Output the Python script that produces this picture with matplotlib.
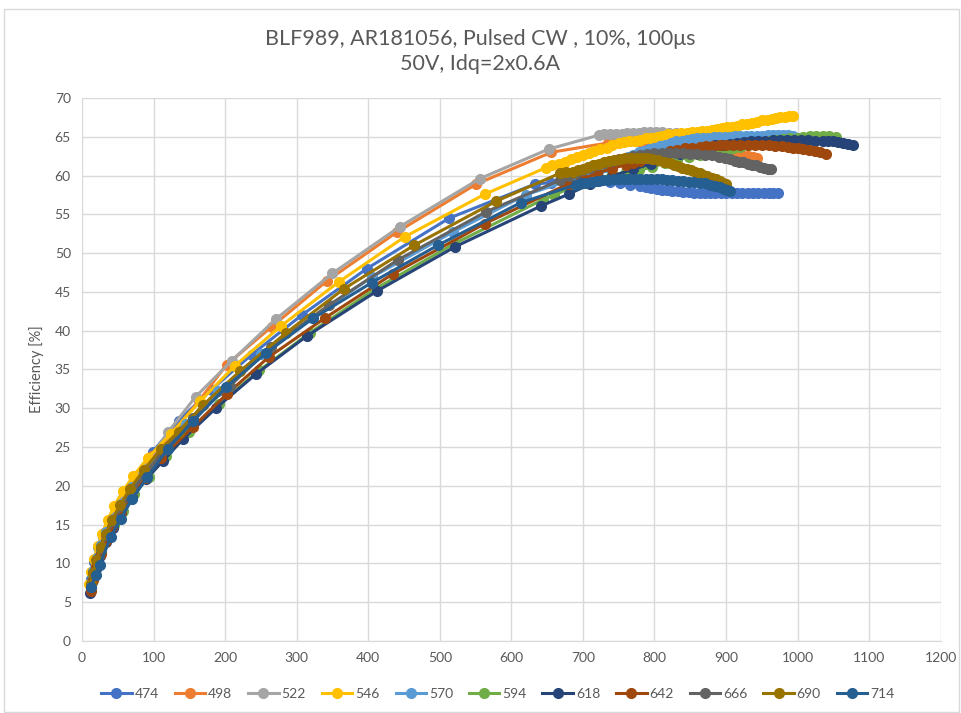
import matplotlib
matplotlib.use("Agg")
import matplotlib.pyplot as plt

plt.rcParams['font.family'] = ['Lato', 'DejaVu Sans']

# Pout [W] and drain efficiency [%] per frequency [MHz]
pout_474 = [12, 17, 23, 31, 44, 58, 77, 99, 135, 181, 237, 307, 398, 513, 633, 655, 672, 690,
            707, 723, 738, 752, 766, 780, 788, 795, 803, 810, 818, 825, 833, 840, 848, 855, 863,
            870, 878, 885, 893, 900, 908, 915, 923, 930, 938, 945, 953, 960, 966, 972]
eff_474 = [8.0, 10.2, 12.1, 13.9, 15.9, 18.4, 21.1, 24.4, 28.4, 32.4, 36.9, 42.0, 48.0, 54.5, 58.9, 59.1, 59.3, 59.4,
           59.4, 59.3, 59.2, 59.0, 58.8, 58.6, 58.5, 58.4, 58.3, 58.2, 58.1, 58.0, 58.0, 57.9, 57.9, 57.8, 57.8,
           57.7, 57.7, 57.7, 57.7, 57.7, 57.7, 57.7, 57.7, 57.7, 57.7, 57.7, 57.7, 57.7, 57.7, 57.8]

pout_498 = [12, 15, 19, 24, 31, 39, 49, 62, 78, 98, 126, 163, 202, 265, 342, 440, 551, 656, 735,
            743, 750, 758, 765, 773, 780, 788, 795, 803, 810, 818, 825, 833, 840, 848, 855, 863,
            870, 878, 885, 893, 900, 908, 915, 922, 930, 937, 943]
eff_498 = [7.1, 8.8, 10.4, 12.0, 13.7, 15.5, 17.3, 19.3, 21.4, 23.8, 26.8, 30.9, 35.6, 40.5, 46.4, 52.7, 58.9, 63.0, 64.2,
           64.3, 64.3, 64.4, 64.4, 64.4, 64.4, 64.4, 64.4, 64.4, 64.3, 64.3, 64.2, 64.1, 64.0, 63.9, 63.8, 63.7,
           63.6, 63.4, 63.3, 63.2, 63.0, 62.9, 62.8, 62.6, 62.5, 62.4, 62.3]

pout_522 = [12, 15, 19, 24, 30, 38, 48, 60, 75, 93, 120, 159, 209, 271, 350, 444, 556, 652, 722,
            730, 738, 746, 754, 762, 770, 778, 786, 794, 802, 810, 820, 830, 840, 850, 860, 870, 880]
eff_522 = [7.0, 8.6, 10.2, 11.9, 13.4, 15.1, 17.0, 19.0, 21.0, 23.3, 26.9, 31.5, 36.1, 41.5, 47.4, 53.4, 59.6, 63.4, 65.2,
           65.3, 65.3, 65.4, 65.4, 65.5, 65.5, 65.5, 65.6, 65.6, 65.6, 65.6, 65.5, 65.5, 65.4, 65.3, 65.3, 65.2, 65.2]

pout_546 = [10, 13, 17, 22, 28, 36, 45, 57, 72, 92, 124, 165, 214, 278, 359, 451, 563, 648,
            657, 666, 675, 684, 692, 700, 708, 715, 724, 733, 741, 750, 758, 765, 773, 780, 788,
            795, 803, 810, 819, 828, 837, 845, 853, 860, 867, 873, 880, 887, 894, 901, 908, 915,
            922, 929, 936, 943, 950, 957, 964, 970, 976, 982, 988, 993]
eff_546 = [7.4, 8.9, 10.6, 12.2, 13.8, 15.6, 17.4, 19.3, 21.3, 23.6, 26.7, 30.9, 35.5, 40.6, 46.3, 52.1, 57.6, 61.0,
           61.3, 61.5, 61.8, 62.1, 62.4, 62.6, 62.9, 63.2, 63.4, 63.6, 63.9, 64.2, 64.3, 64.4, 64.5, 64.6, 64.8,
           64.9, 65.0, 65.1, 65.3, 65.4, 65.5, 65.5, 65.6, 65.6, 65.7, 65.8, 65.9, 66.0, 66.1, 66.2, 66.3, 66.4,
           66.6, 66.7, 66.8, 66.9, 67.1, 67.2, 67.3, 67.4, 67.5, 67.6, 67.7, 67.7]

pout_570 = [12, 16, 21, 27, 34, 43, 55, 70, 88, 112, 145, 190, 250, 321, 405, 518, 620, 723,
            732, 740, 748, 755, 763, 770, 778, 785, 793, 800, 808, 815, 823, 830, 838, 845, 853,
            860, 868, 875, 883, 890, 898, 905, 913, 920, 928, 935, 943, 950, 958, 965, 973, 980,
            987, 993]
eff_570 = [7.4, 9.0, 10.7, 12.4, 14.0, 15.7, 17.7, 19.8, 22.0, 24.7, 28.0, 32.2, 37.0, 41.6, 46.9, 52.7, 57.5, 60.7,
           61.1, 61.5, 61.8, 62.1, 62.4, 62.7, 63.0, 63.2, 63.4, 63.6, 63.8, 64.0, 64.2, 64.4, 64.5, 64.6, 64.7,
           64.8, 64.9, 64.9, 65.0, 65.0, 65.0, 65.0, 65.1, 65.1, 65.1, 65.1, 65.1, 65.1, 65.2, 65.2, 65.2, 65.2,
           65.2, 65.1]

pout_594 = [12, 16, 21, 27, 35, 45, 57, 73, 93, 118, 150, 192, 248, 318, 410, 520, 644,
            660, 680, 700, 720, 740, 760, 779, 797, 815, 831, 848, 864, 880, 890, 900, 910, 920,
            930, 940, 950, 960, 970, 980, 990, 1000, 1008, 1017, 1026, 1035, 1044, 1054]
eff_594 = [6.8, 8.3, 9.9, 11.5, 13.1, 14.9, 16.8, 18.9, 21.2, 23.8, 27.0, 30.6, 34.9, 39.7, 45.4, 51.2, 56.9,
           57.5, 58.3, 59.0, 59.6, 60.1, 60.4, 60.7, 61.1, 61.6, 62.0, 62.4, 62.7, 63.0, 63.1, 63.3, 63.5, 63.7,
           63.9, 64.1, 64.3, 64.4, 64.6, 64.7, 64.8, 64.9, 65.0, 65.1, 65.1, 65.1, 65.1, 65.0]

pout_618 = [11, 14, 19, 25, 33, 43, 55, 70, 90, 113, 141, 187, 243, 314, 412, 521, 642,
            680, 710, 740, 770, 795, 815, 835, 845, 855, 865, 875, 885, 895, 905, 915, 925, 935,
            945, 955, 965, 975, 985, 995, 1005, 1015, 1025, 1035, 1043, 1050, 1057, 1063, 1070, 1077]
eff_618 = [6.2, 7.6, 9.3, 11.0, 12.8, 14.6, 16.5, 18.5, 20.9, 23.2, 26.0, 30.0, 34.4, 39.3, 45.1, 50.8, 56.1,
           57.6, 58.9, 59.9, 60.8, 61.5, 62.2, 62.8, 63.1, 63.3, 63.5, 63.7, 63.9, 64.0, 64.1, 64.2, 64.3, 64.4,
           64.5, 64.5, 64.6, 64.6, 64.6, 64.6, 64.6, 64.6, 64.5, 64.5, 64.4, 64.4, 64.3, 64.2, 64.1, 63.9]

pout_642 = [12, 15, 20, 26, 33, 42, 54, 69, 88, 111, 155, 202, 261, 339, 434, 563, 679,
            700, 720, 740, 760, 770, 780, 790, 800, 810, 821, 831, 842, 852, 863, 872, 882, 891,
            900, 910, 920, 930, 940, 950, 960, 969, 978, 986, 993, 1000, 1008, 1016, 1024, 1032, 1040]
eff_642 = [6.5, 7.9, 9.5, 11.2, 12.9, 14.7, 16.6, 18.7, 21.0, 23.6, 27.6, 31.8, 36.6, 41.6, 47.3, 53.8, 58.9,
           59.6, 60.3, 60.9, 61.4, 61.6, 61.9, 62.2, 62.5, 62.8, 63.1, 63.3, 63.5, 63.6, 63.7, 63.8, 63.8, 63.9,
           63.9, 63.9, 63.9, 63.9, 63.9, 63.9, 63.9, 63.8, 63.8, 63.7, 63.6, 63.5, 63.4, 63.3, 63.1, 63.0, 62.8]

pout_666 = [12, 16, 21, 27, 34, 44, 56, 71, 90, 115, 155, 207, 264, 345, 441, 564, 668,
            680, 690, 700, 710, 720, 730, 740, 750, 760, 770, 780, 790, 800, 810, 820, 830, 840,
            850, 860, 870, 880, 890, 898, 905, 912, 918, 924, 930, 936, 942, 948, 953, 958, 963]
eff_666 = [7.0, 8.7, 10.4, 12.0, 13.7, 15.5, 17.4, 19.5, 21.8, 24.6, 28.8, 32.9, 37.9, 43.3, 49.1, 55.3, 59.4,
           59.9, 60.3, 60.7, 61.0, 61.3, 61.6, 61.9, 62.1, 62.3, 62.5, 62.7, 62.8, 62.9, 62.9, 62.9, 62.9, 62.9,
           62.8, 62.8, 62.7, 62.6, 62.4, 62.2, 62.1, 61.9, 61.8, 61.7, 61.5, 61.4, 61.3, 61.1, 61.0, 60.9, 60.8]

pout_690 = [12, 15, 20, 26, 33, 42, 53, 67, 86, 110, 135, 169, 221, 285, 366, 464, 579, 668,
            677, 686, 693, 700, 707, 714, 722, 729, 737, 744, 752, 759, 767, 775, 782, 790, 797,
            805, 813, 821, 827, 833, 839, 845, 851, 857, 863, 868, 874, 880, 886, 891, 896, 900]
eff_690 = [7.4, 8.7, 10.4, 12.1, 13.8, 15.6, 17.5, 19.6, 22.0, 24.7, 27.0, 30.4, 34.8, 39.7, 45.4, 51.0, 56.7, 60.3,
           60.4, 60.5, 60.7, 60.9, 61.1, 61.3, 61.5, 61.7, 61.9, 62.0, 62.1, 62.2, 62.3, 62.3, 62.3, 62.2, 62.1,
           62.0, 61.8, 61.6, 61.4, 61.2, 61.0, 60.8, 60.7, 60.5, 60.3, 60.1, 59.9, 59.7, 59.5, 59.3, 59.1, 58.9]

pout_714 = [13, 19, 25, 40, 54, 70, 91, 120, 155, 201, 257, 323, 405, 497, 613, 690,
            698, 705, 713, 720, 728, 735, 743, 750, 758, 765, 773, 780, 788, 795, 803, 810, 818,
            825, 833, 840, 848, 855, 863, 870, 878, 885, 891, 897, 901, 905]
eff_714 = [7.0, 8.5, 9.8, 13.4, 15.7, 18.3, 21.1, 24.8, 28.3, 32.7, 37.1, 41.6, 46.2, 51.0, 56.5, 58.8,
           59.0, 59.1, 59.2, 59.3, 59.4, 59.4, 59.5, 59.5, 59.5, 59.5, 59.5, 59.5, 59.5, 59.5, 59.5, 59.5, 59.4,
           59.4, 59.3, 59.3, 59.2, 59.2, 59.1, 59.0, 58.8, 58.7, 58.5, 58.3, 58.1, 58.0]

freqs = ['474', '498', '522', '546', '570', '594', '618', '642', '666', '690', '714']
colors = ['#4472C4', '#ED7D31', '#A5A5A5', '#FFC000', '#5B9BD5', '#70AD47',
          '#264478', '#9E480E', '#636363', '#997300', '#255E91']
pouts = [pout_474, pout_498, pout_522, pout_546, pout_570, pout_594,
         pout_618, pout_642, pout_666, pout_690, pout_714]
effs = [eff_474, eff_498, eff_522, eff_546, eff_570, eff_594,
        eff_618, eff_642, eff_666, eff_690, eff_714]

fig = plt.figure(figsize=(9.61, 7.13), dpi=100)
ax = fig.add_axes([0.0853, 0.101, 0.8936, 0.7616])

for f, c, x, y in zip(freqs, colors, pouts, effs):
    ax.plot(x, y, color=c, lw=2.2, marker='o', ms=7, label=f)

ax.set_xlim(0, 1200)
ax.set_ylim(0, 70)
ax.set_xticks(range(0, 1201, 100))
ax.set_yticks(range(0, 71, 5))
ax.grid(True, color='#D9D9D9', lw=1)
ax.set_axisbelow(True)
for s in ['top', 'right', 'left']:
    ax.spines[s].set_visible(False)
ax.spines['bottom'].set_color('#D9D9D9')
ax.tick_params(length=0, labelsize=10, colors='#595959', pad=8)
ax.set_ylabel('Efficiency [%]', fontsize=10.5, color='#595959', labelpad=8)

fig.text(0.5, 0.946, 'BLF989, AR181056, Pulsed CW , 10%, 100μs', ha='center', va='center',
         fontsize=15.5, color='#595959')
fig.text(0.5, 0.910, '50V, Idq=2x0.6A', ha='center', va='center', fontsize=15.5, color='#595959')

fig.legend(loc='center', bbox_to_anchor=(0.518, 0.027), ncol=11, frameon=False,
           fontsize=10, handlelength=2.2, columnspacing=1.15, handletextpad=0.2,
           labelcolor='#595959')

# chart border
fig.patches.append(plt.Rectangle((0.004, 0.002), 0.994, 0.986, transform=fig.transFigure,
                                 fill=False, edgecolor='#D9D9D9', lw=1))

fig.savefig('out.png', dpi=100)
